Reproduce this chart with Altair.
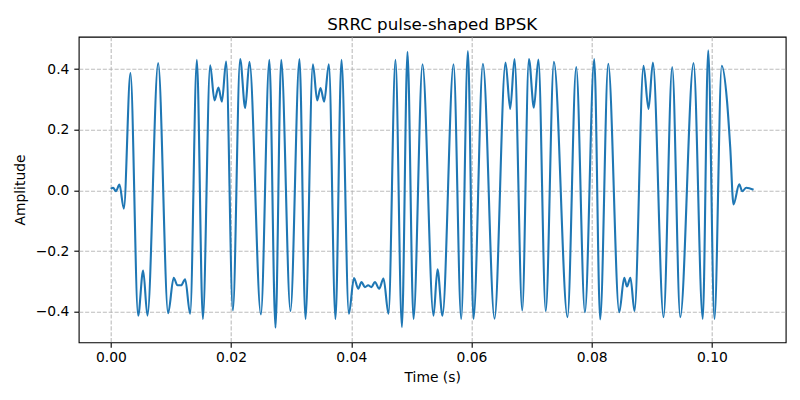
import altair as alt
import pandas as pd

# Time (s) of the traced extrema / turning points of the waveform
time_s = [
    0.00000, 0.00038, 0.00083, 0.00143, 0.00216, 0.00326, 0.00454, 0.00537, 0.00609, 0.00787,
    0.00953, 0.01045, 0.01108, 0.01170, 0.01236, 0.01319, 0.01431, 0.01531, 0.01652, 0.01724,
    0.01790, 0.01847, 0.01918, 0.02030, 0.02151, 0.02235, 0.02306, 0.02496, 0.02637, 0.02739,
    0.02834, 0.02988, 0.03138, 0.03238, 0.03361, 0.03433, 0.03488, 0.03549, 0.03627, 0.03737,
    0.03837, 0.03960, 0.04045, 0.04115, 0.04170, 0.04226, 0.04281, 0.04336, 0.04393, 0.04464,
    0.04536, 0.04619, 0.04735, 0.04842, 0.04935, 0.05035, 0.05185, 0.05368, 0.05434, 0.05517,
    0.05701, 0.05829, 0.05940, 0.06033, 0.06190, 0.06383, 0.06566, 0.06644, 0.06716, 0.06844,
    0.06955, 0.07038, 0.07113, 0.07235, 0.07371, 0.07597, 0.07742, 0.07887, 0.08042, 0.08141,
    0.08275, 0.08458, 0.08541, 0.08586, 0.08644, 0.08712, 0.08862, 0.08945, 0.09018, 0.09195,
    0.09339, 0.09473, 0.09694, 0.09847, 0.09938, 0.10042, 0.10163, 0.10250, 0.10304, 0.10359,
    0.10454, 0.10504, 0.10571, 0.10692,
]
amplitude = [
    0.005, 0.009, -0.003, 0.019, -0.060, 0.387, -0.413, -0.264, -0.413, 0.420,
    -0.405, -0.288, -0.313, -0.313, -0.293, -0.407, 0.431, -0.424, 0.413, 0.297,
    0.339, 0.293, 0.425, -0.396, 0.433, 0.272, 0.424, -0.409, 0.431, -0.453,
    0.431, -0.398, 0.433, -0.424, 0.416, 0.297, 0.338, 0.293, 0.416, -0.424,
    0.431, -0.407, -0.289, -0.324, -0.302, -0.319, -0.313, -0.319, -0.302, -0.324,
    -0.291, -0.407, 0.431, -0.451, 0.457, -0.424, 0.416, -0.413, -0.260, -0.413,
    0.416, -0.424, 0.460, -0.424, 0.418, -0.423, 0.422, 0.269, 0.433, -0.396,
    0.433, 0.273, 0.432, -0.398, 0.424, -0.418, 0.407, -0.402, 0.433, -0.426,
    0.418, -0.402, -0.288, -0.317, -0.288, -0.398, 0.411, 0.269, 0.422, -0.418,
    0.407, -0.418, 0.420, -0.424, 0.462, -0.424, 0.411, 0.297, 0.143, -0.046,
    0.020, -0.003, 0.009, 0.002,
]

x_ticks = [0.0, 0.02, 0.04, 0.06, 0.08, 0.10]
y_ticks = [-0.4, -0.2, 0.0, 0.2, 0.4]

df = pd.DataFrame({"t": time_s, "a": amplitude})

FONT = "DejaVu Sans"

chart = (
    alt.Chart(df)
    .mark_line(interpolate="monotone", color="#1f77b4", strokeWidth=2.1)
    .encode(
        x=alt.X(
            "t:Q",
            scale=alt.Scale(domain=[-0.00535, 0.11227], nice=False, zero=False),
            axis=alt.Axis(
                title="Time (s)",
                values=x_ticks,
                format=".2f",
                titleY=35.3,
                titleBaseline="middle",
            ),
        ),
        y=alt.Y(
            "a:Q",
            scale=alt.Scale(domain=[-0.501, 0.507], nice=False, zero=False),
            axis=alt.Axis(
                title="Amplitude",
                values=y_ticks,
                format=".1f",
                titleX=-58,
                titleY=152.8,
                titleAngle=-90,
                titleBaseline="middle",
                titleAlign="center",
            ),
        ),
    )
    .properties(
        width=707,
        height=305.6,
        title=alt.TitleParams(
            "SRRC pulse-shaped BPSK",
            fontSize=16.7,
            font=FONT,
            fontWeight="normal",
            color="black",
            offset=3,
            anchor="middle",
        ),
        autosize=alt.AutoSizeParams(type="none"),
        padding={"left": 70.7, "top": 28.7, "right": 6, "bottom": 55},
    )
    .configure_view(stroke="black", strokeWidth=1.1)
    .configure_axis(
        domain=False,
        grid=True,
        gridColor="#b0b0b0",
        gridDash=[4.1, 1.8],
        gridWidth=1.1,
        gridOpacity=0.85,
        ticks=True,
        tickColor="black",
        tickWidth=1.1,
        tickSize=4.9,
        labelFont=FONT,
        labelFontSize=13.9,
        labelColor="black",
        titleFont=FONT,
        titleFontSize=13.9,
        titleFontWeight="normal",
        titleColor="black",
        labelFlush=False,
        labelOverlap=False,
    )
    .configure_axisX(labelPadding=3.5)
    .configure_axisY(labelPadding=4.9)
)

chart.save("out.html", embed_options={"renderer": "svg", "actions": False})
